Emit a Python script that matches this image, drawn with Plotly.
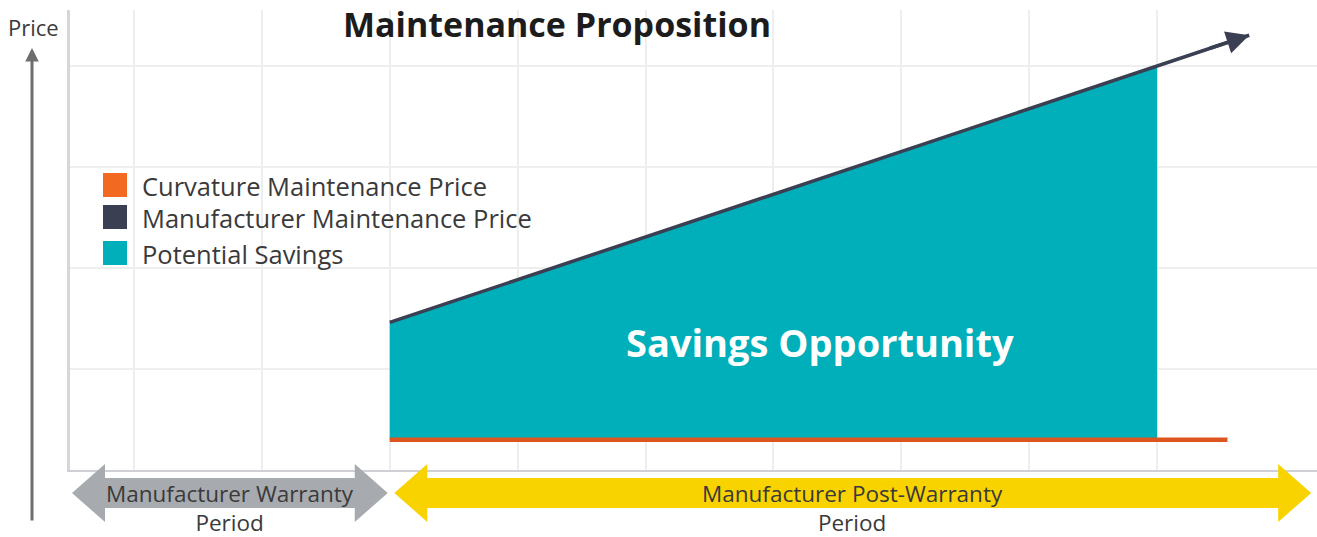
import plotly.graph_objects as go

# ---------------- data ----------------
savings_x = [3, 9]                 # savings window (period units)
mfr_at_savings = [1.46, 4.0]       # manufacturer price at window edges
curv_at_savings = [0.3, 0.3]       # curvature price at window edges

mfr_x = [3, 9, 9.72]               # manufacturer price line (ends in arrow)
mfr_y = [1.46, 4.0, 4.3]
curv_x = [3, 9.55]                 # curvature price line
curv_y = [0.3, 0.3]

legend_labels = ["Curvature Maintenance Price", "Manufacturer Maintenance Price", "Potential Savings"]
legend_colors = ["#F26A21", "#3A4052", "#00AFB9"]

period_top = ["Manufacturer Warranty", "Manufacturer Post-Warranty"]
period_bottom = ["Period", "Period"]
period_start = [0.5, 3.02]
period_end = [3.0, 10.22]
period_colors = ["#A7AAAE", "#F9D300"]

title_text = "Maintenance Proposition"
center_text = "Savings Opportunity"
y_label = "Price"

# ---------------- layout geometry ----------------
W, H = 1317, 537
ML, MR, MT, MB = 70, 0, 10, 67
XR = [0.5, 10.25]
YR = [0, 4.55]
PW, PH = W - ML - MR, H - MT - MB


def px_x(px):
    return (px - ML) / PW


def px_y(py):
    return (H - MB - py) / PH


def data_x_to_paper(x):
    return (x - XR[0]) / (XR[1] - XR[0])


def data_x_to_px(x):
    return ML + data_x_to_paper(x) * PW


fig = go.Figure()

# teal savings fill
fig.add_trace(go.Scatter(x=savings_x, y=curv_at_savings, mode="lines",
                         line=dict(width=0), showlegend=False, hoverinfo="skip"))
fig.add_trace(go.Scatter(x=savings_x, y=mfr_at_savings, mode="lines",
                         line=dict(width=0), fill="tonexty",
                         fillcolor=legend_colors[2], showlegend=False, hoverinfo="skip"))
# manufacturer line
fig.add_trace(go.Scatter(x=mfr_x, y=mfr_y, mode="lines",
                         line=dict(color=legend_colors[1], width=3.5),
                         showlegend=False, hoverinfo="skip"))
# curvature line
fig.add_trace(go.Scatter(x=curv_x, y=curv_y, mode="lines",
                         line=dict(color="#DD5620", width=4.5),
                         showlegend=False, hoverinfo="skip"))

annotations = []
shapes = []

# arrowhead on manufacturer line
slope = (mfr_y[-1] - mfr_y[-2]) / (mfr_x[-1] - mfr_x[-2])
annotations.append(dict(x=mfr_x[-1], y=mfr_y[-1], ax=mfr_x[-2] + 0.4, ay=mfr_y[-2] + 0.4 * slope,
                        axref="x", ayref="y", xref="x", yref="y", text="",
                        showarrow=True, arrowhead=2, arrowsize=1.3, arrowwidth=3.5,
                        arrowcolor=legend_colors[1]))

# center text
annotations.append(dict(x=px_x(820), y=px_y(342), xref="paper", yref="paper",
                        xanchor="center", yanchor="middle",
                        text="<b>" + center_text + "</b>", showarrow=False,
                        font=dict(family="Open Sans", size=38, color="white")))

# legend (manual)
row_centers = [185, 217, 253]
for lab, col, cy in zip(legend_labels, legend_colors, row_centers):
    shapes.append(dict(type="rect", xref="paper", yref="paper",
                       x0=px_x(103), x1=px_x(127), y0=px_y(cy + 12), y1=px_y(cy - 12),
                       fillcolor=col, line=dict(width=0)))
    annotations.append(dict(x=px_x(140), y=px_y(cy + 1), xref="paper", yref="paper",
                            xanchor="left", yanchor="middle", text=lab, showarrow=False,
                            font=dict(family="Open Sans", size=25.5, color="#3a3a3a")))

# period double arrows
for top, bot, s, e, col in zip(period_top, period_bottom, period_start, period_end, period_colors):
    xl = data_x_to_px(s) + 2
    xr = data_x_to_px(e) - 2
    cy, hh, bh, hl = 493, 29, 15, 33
    pts = [(xl, cy), (xl + hl, cy - hh), (xl + hl, cy - bh), (xr - hl, cy - bh), (xr - hl, cy - hh),
           (xr, cy), (xr - hl, cy + hh), (xr - hl, cy + bh), (xl + hl, cy + bh), (xl + hl, cy + hh)]
    path = "M " + " L ".join(f"{px_x(a):.5f},{px_y(b):.5f}" for a, b in pts) + " Z"
    shapes.append(dict(type="path", xref="paper", yref="paper", path=path,
                       fillcolor=col, line=dict(width=0), layer="above"))
    xc = (xl + xr) / 2
    annotations.append(dict(x=px_x(xc), y=px_y(507.5), xref="paper", yref="paper",
                            text=top + "<br>" + bot,
                            showarrow=False, xanchor="center", yanchor="middle",
                            font=dict(family="Open Sans", size=22.5, color="#3a3a3a")))

# Price axis arrow + label
annotations.append(dict(x=px_x(32), y=px_y(48), xref="paper", yref="paper", text="",
                        ax=0, ay=474, showarrow=True, arrowhead=2, arrowsize=0.9,
                        arrowwidth=3, arrowcolor="#6e6e6e"))
annotations.append(dict(x=px_x(33), y=px_y(27), xref="paper", yref="paper", text=y_label,
                        showarrow=False, xanchor="center", yanchor="middle",
                        font=dict(family="Open Sans", size=22, color="#3a3a3a")))

fig.update_layout(
    width=W, height=H,
    margin=dict(l=ML, r=MR, t=MT, b=MB),
    paper_bgcolor="white", plot_bgcolor="white",
    title=dict(text="<b>" + title_text + "</b>", x=px_x(557), xref="paper", xanchor="center",
               y=1 - 25 / H, yref="container", yanchor="middle",
               font=dict(family="Open Sans", size=34, color="#1c1c1c")),
    xaxis=dict(range=XR, tickvals=list(range(1, 10)), showticklabels=False, ticks="",
               showgrid=True, gridcolor="#EEEEEE", gridwidth=1.5, zeroline=False,
               showline=True, linecolor="#CFCFD6", linewidth=2, fixedrange=True),
    yaxis=dict(range=YR, tickvals=[1, 2, 3, 4], showticklabels=False, ticks="",
               showgrid=True, gridcolor="#EEEEEE", gridwidth=1.5, zeroline=False,
               showline=True, linecolor="#D6D6D6", linewidth=3, fixedrange=True),
    shapes=shapes,
    annotations=annotations,
    showlegend=False,
)

fig.write_html("out.html", config={"displayModeBar": False},
               post_script="document.body.style.margin='0';document.body.style.overflow='hidden';")
